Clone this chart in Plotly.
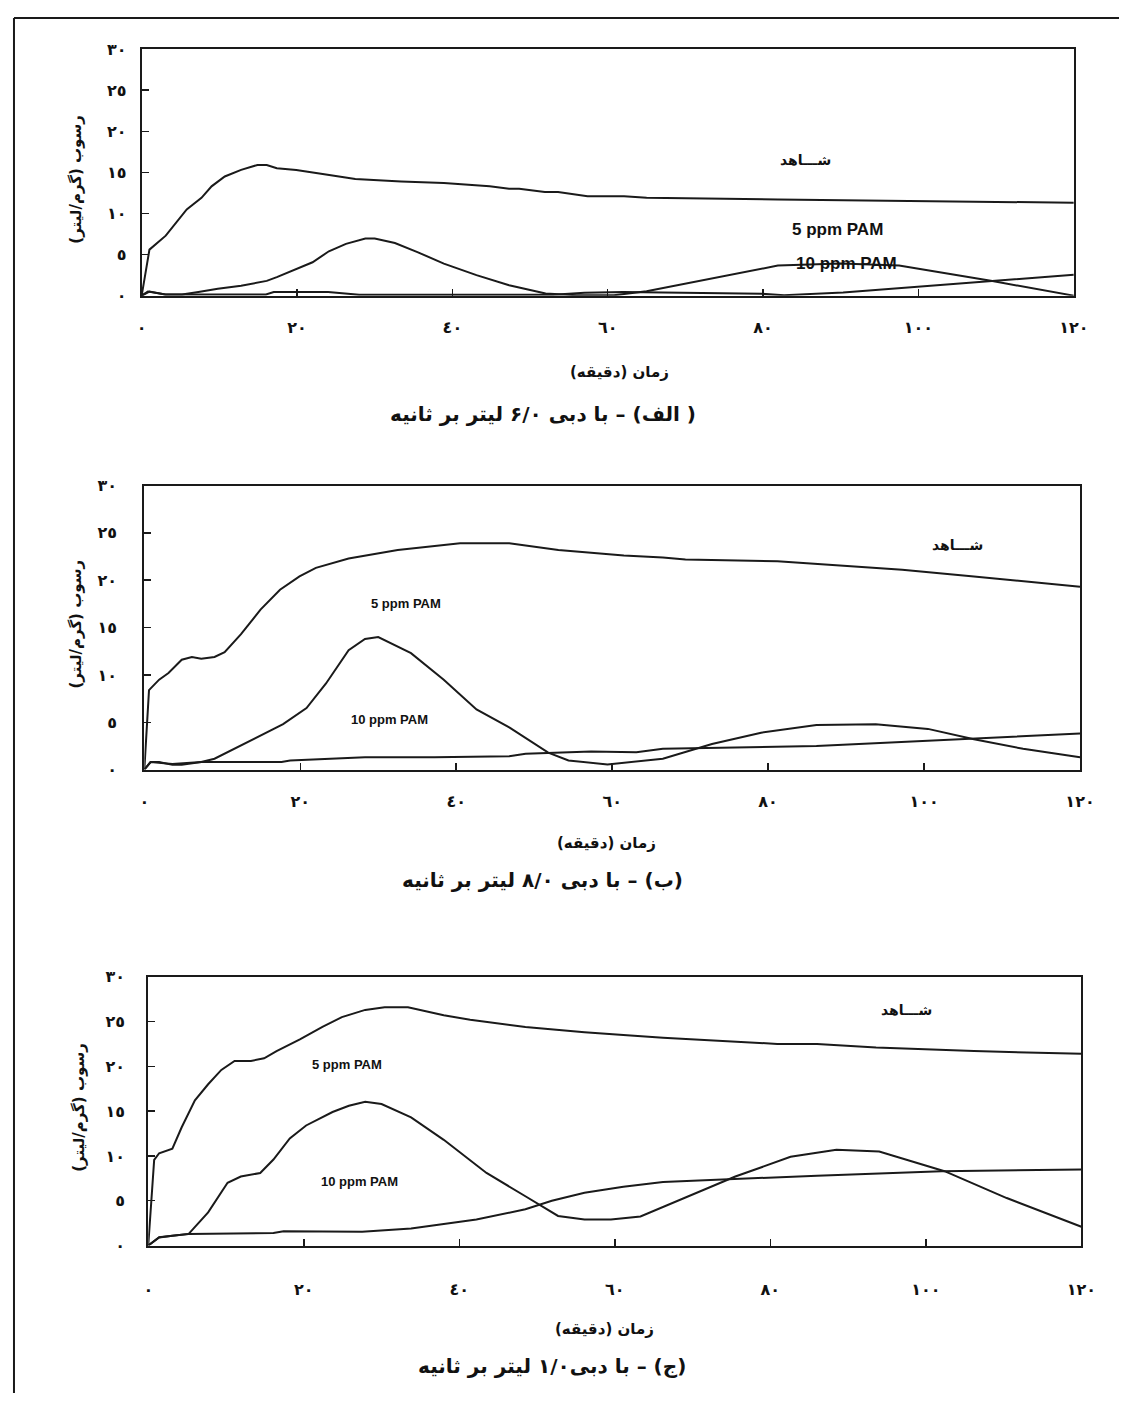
import plotly.graph_objects as go

# reference canvas is 1142x1411; the page adds an 8px body margin, so the
# figure itself is 16px smaller in each direction and offset by 8px.
REF_W, REF_H = 1142, 1411
OFF = 8
W, H = REF_W - 2 * OFF, REF_H - 2 * OFF

# ---------------- data ----------------
# Chart 1 (الف) – 0.6 l/s
c1_ctrl_x = [0, 1.0, 3.1, 4.3, 5.8, 7.7, 9.0, 10.7, 12.8, 14.9, 16.1, 17.4, 19.9, 23.3, 27.5, 33.4, 38.9, 44.8, 47.3, 48.6, 51.9, 53.6, 57.4, 62.1, 65, 81.9, 103, 120]
c1_ctrl_y = [0, 5.6, 7.3, 8.7, 10.5, 11.9, 13.3, 14.5, 15.3, 15.9, 15.9, 15.5, 15.3, 14.8, 14.2, 13.9, 13.7, 13.3, 13.0, 13.0, 12.6, 12.6, 12.1, 12.1, 11.9, 11.7, 11.5, 11.3]
c1_p5_x = [0, 0.8, 3.1, 5.2, 7.3, 9.8, 12.8, 16.1, 17.4, 19.5, 22.0, 24.1, 26.3, 28.8, 30.0, 32.6, 35.5, 38.9, 43.1, 47.3, 52.0, 56, 60.8, 65, 81.9, 90, 97.5, 109.7, 120]
c1_p5_y = [0, 0.5, 0.15, 0.15, 0.45, 0.85, 1.2, 1.8, 2.25, 3.06, 4.06, 5.4, 6.3, 6.95, 6.95, 6.4, 5.3, 3.9, 2.5, 1.26, 0.26, 0.05, 0.05, 0.54, 3.66, 3.9, 3.66, 1.74, 0]
c1_p10_x = [0, 1, 3, 16, 17, 24, 28, 53, 57, 62, 79.8, 82.7, 90.3, 109.7, 120]
c1_p10_y = [0, 0.5, 0.15, 0.15, 0.45, 0.45, 0.1, 0.1, 0.35, 0.45, 0.22, 0.06, 0.38, 1.74, 2.54]

# Chart 2 (ب) – 0.8 l/s
c2_ctrl_x = [0, 0.6, 1.9, 3.1, 4.8, 6.1, 7.3, 9.0, 10.3, 12.4, 14.9, 17.4, 19.9, 22.0, 26.2, 30.0, 32.5, 40.5, 46.8, 53.1, 61.5, 66.5, 69.4, 81.2, 97.2, 106.4, 120]
c2_ctrl_y = [0, 8.4, 9.5, 10.2, 11.6, 11.9, 11.7, 11.9, 12.4, 14.3, 16.9, 19.0, 20.4, 21.3, 22.3, 22.8, 23.2, 23.9, 23.9, 23.2, 22.6, 22.4, 22.2, 22.0, 21.1, 20.4, 19.3]
c2_p5_x = [0, 0.8, 1.9, 3.6, 4.8, 7.3, 9.0, 11.5, 14.9, 17.8, 20.8, 23.3, 26.2, 28.3, 30.0, 34.2, 38.4, 42.6, 46.8, 51.8, 54.4, 59.4, 66.5, 72.8, 79.1, 86.2, 93.8, 100.5, 106.4, 112.7, 120]
c2_p5_y = [0, 0.8, 0.8, 0.5, 0.5, 0.8, 1.15, 2.2, 3.6, 4.8, 6.5, 9.1, 12.6, 13.8, 14.0, 12.3, 9.5, 6.35, 4.45, 1.8, 0.97, 0.55, 1.15, 2.7, 3.9, 4.7, 4.8, 4.3, 3.2, 2.2, 1.3]
c2_p10_x = [0, 0.8, 3.6, 7.3, 17.6, 18.7, 28.3, 37.2, 46.8, 48.9, 57.3, 63.1, 66.5, 86.2, 120]
c2_p10_y = [0, 0.8, 0.6, 0.8, 0.8, 0.97, 1.3, 1.3, 1.4, 1.67, 1.9, 1.84, 2.2, 2.5, 3.8]

# Chart 3 (ج) – 1.0 l/s
c3_ctrl_x = [0, 0.76, 1.4, 3.1, 4.3, 6.0, 7.7, 9.4, 11.1, 13.2, 14.9, 16.5, 19.5, 22.4, 24.9, 27.9, 30.4, 33.4, 38.0, 41.4, 48.5, 56.1, 61.1, 66.2, 80.9, 86.0, 93.6, 106.2, 120]
c3_ctrl_y = [0, 9.56, 10.3, 10.8, 13.2, 16.2, 18.0, 19.6, 20.6, 20.6, 20.9, 21.7, 23.0, 24.4, 25.5, 26.3, 26.6, 26.6, 25.7, 25.2, 24.4, 23.8, 23.5, 23.2, 22.5, 22.5, 22.1, 21.7, 21.4]
c3_p5_x = [0, 1.4, 3.1, 5.2, 7.7, 10.2, 11.9, 14.4, 16.1, 18.2, 20.3, 23.7, 25.8, 27.9, 30.0, 33.8, 38.0, 43.5, 48.5, 52.7, 56.1, 59.5, 63.3, 68.3, 75.5, 82.6, 88.5, 94.0, 102.4, 110.4, 120]
c3_p5_y = [0, 0.93, 1.1, 1.3, 3.7, 7.0, 7.7, 8.1, 9.6, 11.95, 13.4, 14.9, 15.6, 16.05, 15.8, 14.3, 11.8, 8.1, 5.5, 3.3, 2.9, 2.9, 3.25, 5.1, 7.7, 9.9, 10.7, 10.5, 8.3, 5.3, 2.1]
c3_p10_x = [0, 1.4, 3.1, 5.2, 16.1, 17.4, 27.5, 33.8, 42.2, 48.5, 51.9, 56.1, 61.1, 66.2, 86.0, 102, 120]
c3_p10_y = [0, 0.9, 1.1, 1.3, 1.4, 1.6, 1.55, 1.9, 2.9, 4.05, 5.0, 5.9, 6.55, 7.1, 7.8, 8.3, 8.5]

x_tickvals = [0, 20, 40, 60, 80, 100, 120]
x_ticktext = ["٠", "٢٠", "٤٠", "٦٠", "٨٠", "١٠٠", "١٢٠"]
y_tickvals = [0, 5, 10, 15, 20, 25, 30]
y_ticktext = ["٠", "٥", "١٠", "١٥", "٢٠", "٢٥", "٣٠"]

y_title = "رسوب (گرم/لیتر)"
x_title = "زمان (دقیقه)"
captions = ["( الف) – با دبی ۶/۰ لیتر بر ثانیه",
            "(ب) – با دبی ۸/۰ لیتر بر ثانیه",
            "(ج) – با دبی۱/۰ لیتر بر ثانیه"]
lbl_ctrl = "شـــاهد"
lbl_p5 = "5 ppm PAM"
lbl_p10 = "10 ppm PAM"


def rtl(s):
    return "\u202B" + s + "\u202C"


# ---------------- layout geometry (reference pixels) ----------------
panels = [
    dict(x0=139, x1=1088, y0=40.5, y1=290.5,
         series=[(c1_ctrl_x, c1_ctrl_y), (c1_p5_x, c1_p5_y), (c1_p10_x, c1_p10_y)],
         labels=[(lbl_ctrl, 85.5, 16.5, 14), (lbl_p5, 89.6, 8.0, 17), (lbl_p10, 90.8, 3.9, 17)],
         ytitle=(72, 172), xtitle=(625, 368), caption=(548, 410), xstand=16, ystand=10),
    dict(x0=141.7, x1=1094.3, y0=483, y1=771,
         series=[(c2_ctrl_x, c2_ctrl_y), (c2_p5_x, c2_p5_y), (c2_p10_x, c2_p10_y)],
         labels=[(lbl_ctrl, 104.3, 23.75, 14), (lbl_p5, 33.5, 17.5, 13), (lbl_p10, 31.5, 5.3, 13)],
         ytitle=(72, 623), xtitle=(612, 845), caption=(547, 883), xstand=16, ystand=22),
    dict(x0=145.7, x1=1095.7, y0=981, y1=1253.5,
         series=[(c3_ctrl_x, c3_ctrl_y), (c3_p5_x, c3_p5_y), (c3_p10_x, c3_p10_y)],
         labels=[(lbl_ctrl, 97.5, 26.3, 14), (lbl_p5, 25.5, 20.2, 13), (lbl_p10, 27.2, 7.1, 13)],
         ytitle=(75, 1113), xtitle=(610, 1338), caption=(557, 1376), xstand=28, ystand=18),
]


def px(x):
    return (x - OFF) / W


def py(y):
    return 1 - (y - OFF) / H


fig = go.Figure()
LINE = "#1a1a1a"
FONT = "DejaVu Sans"
NARROW = "Liberation Sans Narrow, Liberation Sans, Arial"
annotations = []


def paper_note(x, y, text, size, angle=0):
    return dict(x=px(x), y=py(y), xref="paper", yref="paper", text=rtl(text),
                textangle=angle, showarrow=False, xanchor="center", yanchor="middle",
                font=dict(family=FONT, size=size, color="#111", weight="bold"))


for i, p in enumerate(panels):
    n = i + 1
    xa = "x" if n == 1 else f"x{n}"
    ya = "y" if n == 1 else f"y{n}"
    for sx, sy in p["series"]:
        fig.add_trace(go.Scatter(x=sx, y=sy, mode="lines", xaxis=xa, yaxis=ya,
                                 line=dict(color=LINE, width=2), showlegend=False,
                                 hoverinfo="skip"))
    axis_common = dict(showline=True, mirror=True, linecolor=LINE, linewidth=2,
                       showgrid=False, zeroline=False, ticks="inside", ticklen=7,
                       tickwidth=1.5, tickcolor=LINE, fixedrange=True,
                       tickfont=dict(family=FONT, size=16, color="#111", weight="bold"))
    fig.layout[f"xaxis{'' if n == 1 else n}"] = dict(
        axis_common, domain=[px(p["x0"]), px(p["x1"])], range=[0, 120],
        tickvals=x_tickvals, ticktext=x_ticktext, anchor=ya,
        ticklabelstandoff=p["xstand"])
    fig.layout[f"yaxis{'' if n == 1 else n}"] = dict(
        axis_common, domain=[py(p["y1"]), py(p["y0"])], range=[0, 30],
        tickvals=y_tickvals, ticktext=y_ticktext, anchor=xa,
        ticklabelstandoff=p["ystand"])
    for txt, lx, ly, fs in p["labels"]:
        is_pam = "PAM" in txt
        annotations.append(dict(x=lx, y=ly, xref=xa, yref=ya,
                                text=txt if is_pam else rtl(txt), showarrow=False,
                                xanchor="center", yanchor="middle",
                                font=dict(family=NARROW if is_pam else FONT,
                                          size=fs, color="#111", weight="bold")))
    annotations.append(paper_note(p["ytitle"][0], p["ytitle"][1], y_title, 15, -90))
    annotations.append(paper_note(p["xtitle"][0], p["xtitle"][1], x_title, 15))
    annotations.append(paper_note(p["caption"][0], p["caption"][1], captions[i], 20))

fig.update_layout(
    width=W, height=H, margin=dict(l=0, r=0, t=0, b=0),
    paper_bgcolor="white", plot_bgcolor="white",
    annotations=annotations,
    shapes=[
        dict(type="line", xref="paper", yref="paper", x0=px(9), x1=px(9), y0=0, y1=py(9),
             line=dict(color=LINE, width=2)),
        dict(type="line", xref="paper", yref="paper", x0=px(9), x1=1, y0=py(9), y1=py(9),
             line=dict(color=LINE, width=2)),
    ],
)

fig.write_html("out.html", config={"displayModeBar": False, "staticPlot": True})
